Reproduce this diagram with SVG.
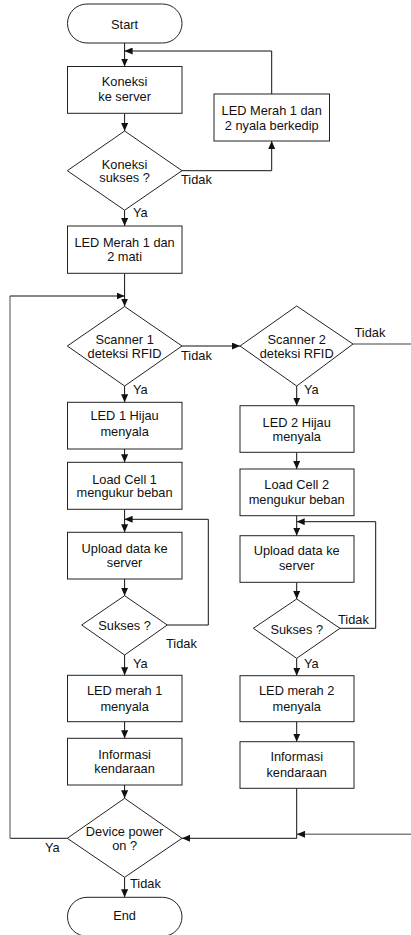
<svg xmlns="http://www.w3.org/2000/svg" width="411" height="935" viewBox="0 0 411 935">
  <style>
    .box { fill: #fff; stroke: #222; stroke-width: 1; }
    .t { font-family: "Liberation Sans", Arial, sans-serif; font-size: 12.8px; fill: #111; text-anchor: middle; }
    .lbl { font-family: "Liberation Sans", Arial, sans-serif; font-size: 12.8px; fill: #111; }
    .ln { fill: none; stroke: #111; stroke-width: 1; }
    .gray { fill: none; stroke: #808080; stroke-width: 1.4; }
    .arr { marker-end: url(#ah); }
  </style>
  <defs>
    <marker id="ah" markerWidth="8" markerHeight="7" refX="8" refY="3.5" orient="auto" markerUnits="userSpaceOnUse">
      <path d="M0,0 L8,3.5 L0,7 z" fill="#111"/>
    </marker>
  </defs>
  <rect width="411" height="935" fill="#fff"/>

  <!-- connectors -->
  <g id="connectors">
    <path class="ln arr" d="M124.6,43 V66.5"/>
    <path class="ln arr" d="M124.6,113.3 V131"/>
    <path class="ln arr" d="M182,170.7 H271.7 V141"/>
    <path class="ln arr" d="M271.7,94 V51 H124.6"/>
    <path class="ln arr" d="M124.6,210.2 V226"/>
    <path class="ln arr" d="M124.6,273.3 V306.5"/>
    <path class="ln" d="M67.3,838.3 H10"/>
    <path class="gray" d="M10,838.3 V296"/>
    <path class="ln arr" d="M10,296 H124.6"/>
    <path class="ln arr" d="M182,346 H240"/>
    <path class="gray" d="M353,344 H411"/>
    <path class="gray arr" d="M411,834.3 H297"/>
    <path class="ln arr" d="M296.7,788.3 V838.3 H182"/>
    <path class="ln arr" d="M124.6,386 V402.3"/>
    <path class="ln arr" d="M124.6,449 V462.3"/>
    <path class="ln arr" d="M124.6,509.3 V532.3"/>
    <path class="ln arr" d="M167.3,625 H208.3 V519.3 H124.6"/>
    <path class="ln arr" d="M124.6,579 V595.7"/>
    <path class="ln arr" d="M124.6,655 V675.3"/>
    <path class="ln arr" d="M124.6,721.7 V738.3"/>
    <path class="ln arr" d="M124.6,785 V798.3"/>
    <path class="ln arr" d="M124.6,877.3 V897.3"/>
    <path class="ln arr" d="M296.7,386 V405.7"/>
    <path class="ln arr" d="M296.7,452.3 V469"/>
    <path class="ln arr" d="M296.7,515.7 V535.7"/>
    <path class="ln arr" d="M340,628.3 H375.7 V521.7 H296.7"/>
    <path class="ln arr" d="M296.7,582.3 V599"/>
    <path class="ln arr" d="M296.7,658.3 V675.7"/>
    <path class="ln arr" d="M296.7,721.7 V741.7"/>
  </g>

  <!-- connector labels -->
  <g id="labels">
    <text class="lbl" x="181" y="183.5">Tidak</text>
    <text class="lbl" x="133" y="217">Ya</text>
    <text class="lbl" x="181" y="359.5">Tidak</text>
    <text class="lbl" x="354.5" y="336.8">Tidak</text>
    <text class="lbl" x="133" y="393.5">Ya</text>
    <text class="lbl" x="304" y="393.5">Ya</text>
    <text class="lbl" x="166" y="647.5">Tidak</text>
    <text class="lbl" x="338" y="623.5">Tidak</text>
    <text class="lbl" x="133" y="667.5">Ya</text>
    <text class="lbl" x="304" y="667.5">Ya</text>
    <text class="lbl" x="45" y="851.5">Ya</text>
    <text class="lbl" x="130" y="887.5">Tidak</text>
  </g>

  <g id="start">
    <rect class="box" x="67.5" y="4" width="114.5" height="39" rx="19.5"/>
    <text class="t" x="124.6" y="28.5">Start</text>
  </g>
  <g id="koneksi">
    <rect class="box" x="67.5" y="66.5" width="114.5" height="46.8"/>
    <text class="t" x="124.6" y="86">Koneksi</text>
    <text class="t" x="124.6" y="101">ke server</text>
  </g>
  <g id="led-kedip">
    <rect class="box" x="214" y="94" width="115.5" height="47"/>
    <text class="t" x="271.7" y="114.5">LED Merah 1 dan</text>
    <text class="t" x="271.7" y="129.5">2 nyala berkedip</text>
  </g>
  <g id="cek-koneksi">
    <polygon class="box" points="124.6,131 182,170.7 124.6,210.2 67.3,170.7"/>
    <text class="t" x="124.6" y="168.5">Koneksi</text>
    <text class="t" x="124.6" y="181.8">sukses ?</text>
  </g>
  <g id="led-mati">
    <rect class="box" x="67.5" y="226" width="114.5" height="47.3"/>
    <text class="t" x="124.6" y="246.8">LED Merah 1 dan</text>
    <text class="t" x="124.6" y="261.2">2 mati</text>
  </g>
  <g id="scanner1">
    <polygon class="box" points="124.6,306.5 182,346 124.6,386 67.3,346"/>
    <text class="t" x="124.6" y="343.8">Scanner 1</text>
    <text class="t" x="124.6" y="357.8">deteksi RFID</text>
  </g>
  <g id="scanner2">
    <polygon class="box" points="296.7,306 353,344 296.7,386 240,346"/>
    <text class="t" x="296.7" y="343.8">Scanner 2</text>
    <text class="t" x="296.7" y="357.8">deteksi RFID</text>
  </g>
  <g id="led1-hijau">
    <rect class="box" x="67.5" y="402.3" width="114.5" height="46.7"/>
    <text class="t" x="124.6" y="420.2">LED 1 Hijau</text>
    <text class="t" x="124.6" y="435.5">menyala</text>
  </g>
  <g id="led2-hijau">
    <rect class="box" x="240" y="405.7" width="114" height="46.6"/>
    <text class="t" x="296.7" y="426.8">LED 2 Hijau</text>
    <text class="t" x="296.7" y="441.2">menyala</text>
  </g>
  <g id="loadcell1">
    <rect class="box" x="67.5" y="462.3" width="114.5" height="47"/>
    <text class="t" x="124.6" y="483.5">Load Cell 1</text>
    <text class="t" x="124.6" y="497.2">mengukur beban</text>
  </g>
  <g id="loadcell2">
    <rect class="box" x="240" y="469" width="114" height="46.7"/>
    <text class="t" x="296.7" y="488.8">Load Cell 2</text>
    <text class="t" x="296.7" y="503.5">mengukur beban</text>
  </g>
  <g id="upload1">
    <rect class="box" x="67.5" y="532.3" width="114.5" height="46.7"/>
    <text class="t" x="124.6" y="552.8">Upload data ke</text>
    <text class="t" x="124.6" y="567.2">server</text>
  </g>
  <g id="upload2">
    <rect class="box" x="240" y="535.7" width="114" height="46.6"/>
    <text class="t" x="296.7" y="555.2">Upload data ke</text>
    <text class="t" x="296.7" y="570.2">server</text>
  </g>
  <g id="sukses1">
    <polygon class="box" points="124.6,595.7 167.3,625 124.6,655 81.7,625"/>
    <text class="t" x="124.6" y="630">Sukses ?</text>
  </g>
  <g id="sukses2">
    <polygon class="box" points="296.7,599 340,628.3 296.7,658.3 253.3,628.3"/>
    <text class="t" x="296.7" y="633.5">Sukses ?</text>
  </g>
  <g id="led-merah1">
    <rect class="box" x="67.5" y="675.3" width="114.5" height="46.4"/>
    <text class="t" x="124.6" y="695.2">LED merah 1</text>
    <text class="t" x="124.6" y="710.5">menyala</text>
  </g>
  <g id="led-merah2">
    <rect class="box" x="240" y="675.7" width="114" height="46"/>
    <text class="t" x="296.7" y="695.2">LED merah 2</text>
    <text class="t" x="296.7" y="710.5">menyala</text>
  </g>
  <g id="info1">
    <rect class="box" x="67.5" y="738.3" width="114.5" height="46.7"/>
    <text class="t" x="124.6" y="758.5">Informasi</text>
    <text class="t" x="124.6" y="772.8">kendaraan</text>
  </g>
  <g id="info2">
    <rect class="box" x="240" y="741.7" width="114" height="46.6"/>
    <text class="t" x="296.7" y="761.2">Informasi</text>
    <text class="t" x="296.7" y="776.8">kendaraan</text>
  </g>
  <g id="power">
    <polygon class="box" points="124.6,798.3 182,838.3 124.6,877.3 67.3,838.3"/>
    <text class="t" x="124.6" y="835.5">Device power</text>
    <text class="t" x="124.6" y="849.5">on ?</text>
  </g>
  <g id="end">
    <rect class="box" x="67.5" y="897.3" width="114.5" height="39" rx="19.5"/>
    <text class="t" x="124.6" y="919.5">End</text>
  </g>
</svg>
